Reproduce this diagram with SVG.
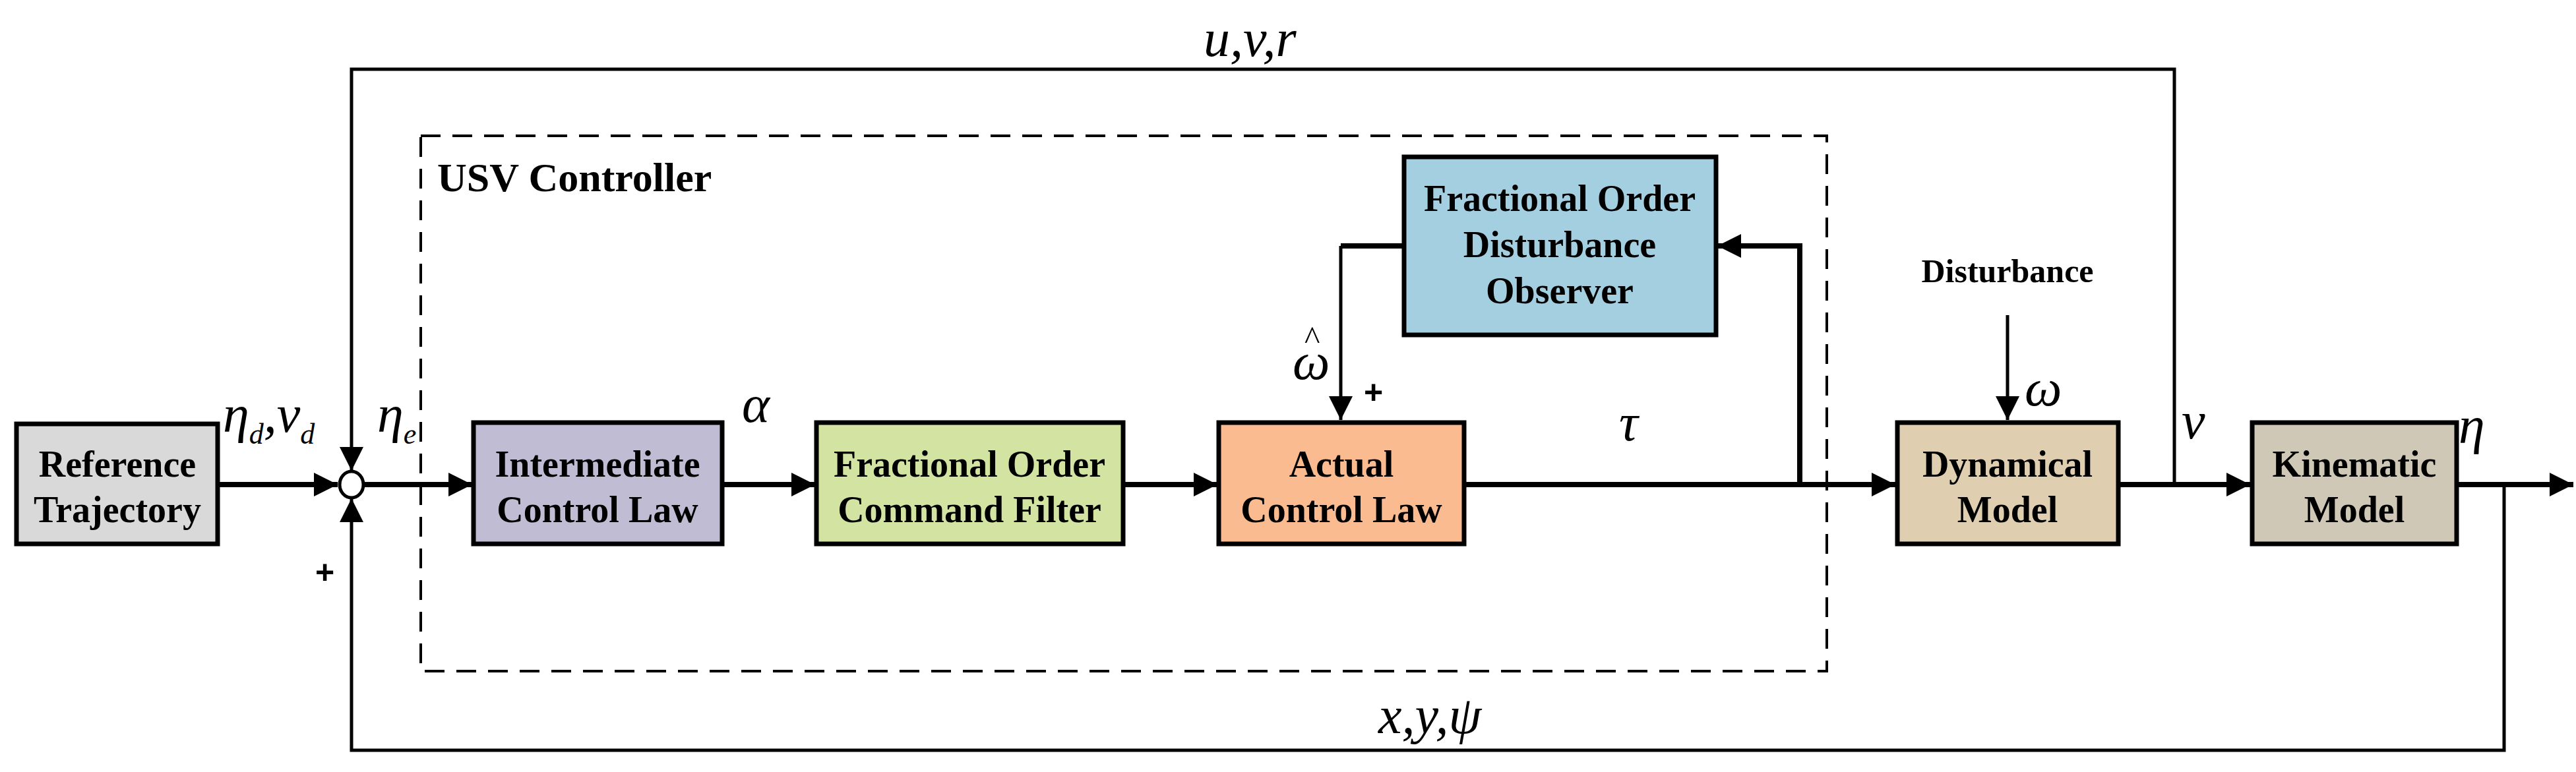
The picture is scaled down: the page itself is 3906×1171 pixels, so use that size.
<svg xmlns="http://www.w3.org/2000/svg" width="3906" height="1171" viewBox="0 0 3906 1171">
<style>
.box{stroke:#000;stroke-width:7}
.t{font-family:"Liberation Serif",serif;font-weight:bold;font-size:56px;text-anchor:middle}
.m{font-family:"Liberation Serif",serif;font-style:italic;font-size:80px}
.s{font-family:"Liberation Sans",sans-serif;font-weight:bold;font-size:50px}
.thick{stroke:#000;stroke-width:8;fill:none}
.thin{stroke:#000;stroke-width:5;fill:none}
</style>
<defs>
<marker id="A" viewBox="0 0 10 10" refX="10" refY="5" markerWidth="36" markerHeight="36" orient="auto" markerUnits="userSpaceOnUse"><path d="M0,0 L10,5 L0,10 z"/></marker>
</defs>
<rect x="638" y="206" width="2132" height="812" fill="none" stroke="#000" stroke-width="4" stroke-dasharray="30,18"/>
<text x="663" y="290" style="font-family:'Liberation Serif',serif;font-weight:bold;font-size:62px">USV Controller</text>
<g id="connectors">
<path class="thick" d="M330,735 H512" marker-end="url(#A)"/>
<path class="thick" d="M552,735 H716" marker-end="url(#A)"/>
<path class="thick" d="M1095,735 H1236" marker-end="url(#A)"/>
<path class="thick" d="M1703,735 H1846" marker-end="url(#A)"/>
<path class="thick" d="M2220,735 H2874" marker-end="url(#A)"/>
<path class="thick" d="M3212,735 H3412" marker-end="url(#A)"/>
<path class="thick" d="M3725,735 H3902" marker-end="url(#A)"/>
<path class="thick" d="M2729,735 V373 H2604" marker-end="url(#A)"/>
<path class="thick" d="M2129,373 H2033"/>
<path class="thin" d="M2033,373 V637" marker-end="url(#A)"/>
<path class="thin" d="M3044,478 V637" marker-end="url(#A)"/>
<path class="thin" d="M3297,735 V105 H533 V714" marker-end="url(#A)"/>
<path class="thin" d="M3797,735 V1138 H533 V756" marker-end="url(#A)"/>
</g>
<g id="sum"><ellipse cx="533" cy="735" rx="18" ry="20" fill="#fff" stroke="#000" stroke-width="5"/></g>
<g id="ref"><rect class="box" x="25" y="643" width="305" height="182" fill="#d9d9d9"/><text class="t" x="178" y="723">Reference</text><text class="t" x="178" y="792">Trajectory</text></g>
<g id="icl"><rect class="box" x="718" y="641" width="377" height="184" fill="#c0bcd4"/><text class="t" x="906" y="723">Intermediate</text><text class="t" x="906" y="792">Control Law</text></g>
<g id="focf"><rect class="box" x="1238" y="641" width="465" height="184" fill="#d2e3a2"/><text class="t" x="1470" y="723">Fractional Order</text><text class="t" x="1470" y="792">Command Filter</text></g>
<g id="acl"><rect class="box" x="1848" y="641" width="372" height="184" fill="#fbbb90"/><text class="t" x="2034" y="723">Actual</text><text class="t" x="2034" y="792">Control Law</text></g>
<g id="fodo"><rect class="box" x="2129" y="238" width="473" height="270" fill="#a4cfe0"/><text class="t" x="2365" y="320">Fractional Order</text><text class="t" x="2365" y="390">Disturbance</text><text class="t" x="2365" y="460">Observer</text></g>
<g id="dyn"><rect class="box" x="2877" y="641" width="335" height="184" fill="#dfcfb0"/><text class="t" x="3044" y="723">Dynamical</text><text class="t" x="3044" y="792">Model</text></g>
<g id="kin"><rect class="box" x="3415" y="641" width="310" height="184" fill="#cfc8b6"/><text class="t" x="3570" y="723">Kinematic</text><text class="t" x="3570" y="792">Model</text></g>
<text class="t" x="3044" y="428" style="font-size:50px">Disturbance</text>
<text class="m" x="1825" y="85">u,v,r</text>
<text class="m" x="2090" y="1112">x,y,ψ</text>
<text class="m" x="338" y="655">η<tspan font-size="44" dy="18">d</tspan><tspan dy="-18">,ν</tspan><tspan font-size="44" dy="18">d</tspan></text>
<text class="m" x="572" y="655">η<tspan font-size="44" dy="18">e</tspan></text>
<text class="m" x="1125" y="640">α</text>
<text class="m" x="2455" y="668">τ</text>
<text class="m" x="3070" y="615">ω</text>
<text class="m" x="3308" y="665">ν</text>
<text class="m" x="3728" y="672">η</text>
<text class="m" x="1960" y="575">ω</text>
<text x="1978" y="530" style="font-family:'Liberation Serif',serif;font-size:50px">^</text>
<text class="s" x="2068" y="612">+</text>
<text class="s" x="372" y="752">−</text>
<text class="s" x="478" y="885">+</text>
</svg>
